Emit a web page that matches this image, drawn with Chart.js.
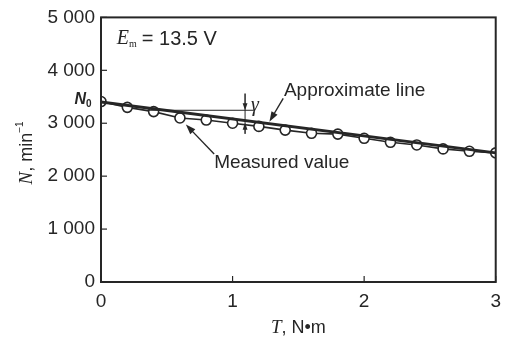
<!DOCTYPE html>
<html>
<head>
<meta charset="utf-8">
<script src="https://cdn.jsdelivr.net/npm/chart.js@4"></script>
<style>
  body { margin: 0; background: #fff; }
  #wrap { width: 509px; height: 342px; position: relative; }
</style>
</head>
<body>
<div id="wrap"><canvas id="chart"></canvas></div>
<script>
// measured speed vs torque at Em = 13.5 V
const torque = [0, 0.2, 0.4, 0.6, 0.8, 1.0, 1.2, 1.4, 1.6, 1.8, 2.0, 2.2, 2.4, 2.6, 2.8, 3.0];
const speed = [3410, 3300, 3220, 3100, 3060, 3000, 2940, 2870, 2810, 2795, 2715, 2640, 2590, 2515, 2470, 2440];
// approximate (fitted) straight line
const approxT = [0, 3];
const approxN = [3400, 2440];
const n0 = 3400;
const yTicks = [0, 1000, 2000, 3000, 4000, 5000];
const xTicks = [0, 1, 2, 3];

const ink = "#262626";
const sans = "Liberation Sans, Arial, sans-serif";
const serif = "Liberation Serif, Times New Roman, serif";

function fmt(v) {
  return v >= 1000 ? Math.floor(v / 1000) + " " + String(v % 1000).padStart(3, "0") : String(v);
}

function arrow(ctx, x1, y1, x2, y2, head) {
  const a = Math.atan2(y2 - y1, x2 - x1);
  ctx.beginPath();
  ctx.moveTo(x1, y1);
  ctx.lineTo(x2 - Math.cos(a) * head * 0.6, y2 - Math.sin(a) * head * 0.6);
  ctx.stroke();
  ctx.beginPath();
  ctx.moveTo(x2, y2);
  ctx.lineTo(x2 - head * Math.cos(a) + head * 0.35 * Math.sin(a), y2 - head * Math.sin(a) - head * 0.35 * Math.cos(a));
  ctx.lineTo(x2 - head * Math.cos(a) - head * 0.35 * Math.sin(a), y2 - head * Math.sin(a) + head * 0.35 * Math.cos(a));
  ctx.closePath();
  ctx.fill();
}

const overlay = {
  id: "overlay",
  afterDraw(chart) {
    const ctx = chart.ctx;
    const xs = chart.scales.x, ys = chart.scales.y;
    const a = chart.chartArea;
    const X = v => xs.getPixelForValue(v), Y = v => ys.getPixelForValue(v);
    ctx.save();
    ctx.strokeStyle = ink;
    ctx.fillStyle = ink;

    // frame
    ctx.lineWidth = 2;
    ctx.strokeRect(a.left, a.top, a.right - a.left, a.bottom - a.top);

    // inward ticks
    ctx.lineWidth = 1.2;
    yTicks.forEach(v => {
      ctx.beginPath(); ctx.moveTo(a.left, Y(v)); ctx.lineTo(a.left + 6, Y(v)); ctx.stroke();
    });
    xTicks.forEach(v => {
      ctx.beginPath(); ctx.moveTo(X(v), a.bottom); ctx.lineTo(X(v), a.bottom - 6); ctx.stroke();
    });

    // N0 label
    ctx.font = "italic bold 16px " + sans;
    ctx.textAlign = "right";
    ctx.textBaseline = "middle";
    ctx.fillText("N", a.left - 15, Y(n0) - 2);
    ctx.font = "bold 10px " + sans;
    ctx.textAlign = "left";
    ctx.fillText("0", a.left - 15, Y(n0) + 2);

    // Em label
    ctx.font = "italic 20px " + serif;
    ctx.textBaseline = "middle";
    let tx = X(0.12), ty = Y(4590);
    ctx.fillText("E", tx, ty);
    tx += ctx.measureText("E").width;
    ctx.font = "10px " + serif;
    ctx.fillText("m", tx, ty + 5);
    tx += ctx.measureText("m").width + 5;
    ctx.font = "20px " + sans;
    ctx.fillText("= 13.5 V", tx, ty);

    // callouts
    ctx.font = "19px " + sans;
    ctx.fillText("Approximate line", X(1.39), Y(3610));
    ctx.fillText("Measured value", X(0.86), Y(2250));
    ctx.lineWidth = 1.4;
    arrow(ctx, X(1.385), Y(3470), X(1.28), Y(3030), 10);
    arrow(ctx, X(0.86), Y(2420), X(0.645), Y(2975), 10);

    // gamma marker
    ctx.lineWidth = 1;
    ctx.beginPath(); ctx.moveTo(X(0.35), Y(3245)); ctx.lineTo(X(1.16), Y(3245)); ctx.stroke();
    ctx.beginPath(); ctx.moveTo(X(1.095), Y(3560)); ctx.lineTo(X(1.095), Y(2800)); ctx.stroke();
    arrow(ctx, X(1.095), Y(3560), X(1.095), Y(3245), 7);
    arrow(ctx, X(1.095), Y(2800), X(1.095), Y(3010), 7);
    ctx.font = "italic 20px " + serif;
    ctx.fillText("\u03B3", X(1.14), Y(3330));

    // axis titles
    ctx.textAlign = "left";
    ctx.font = "italic 19px " + serif;
    let w1 = ctx.measureText("T").width;
    ctx.font = "18px " + sans;
    let w2 = ctx.measureText(", N\u2022m").width;
    let cx = (a.left + a.right) / 2 - (w1 + w2) / 2;
    ctx.font = "italic 19px " + serif;
    ctx.fillText("T", cx, 328);
    ctx.font = "18px " + sans;
    ctx.fillText(", N\u2022m", cx + w1, 328);

    ctx.translate(27, (a.top + a.bottom) / 2 + 6);
    ctx.rotate(-Math.PI / 2);
    ctx.font = "italic 19px " + serif;
    w1 = ctx.measureText("N").width;
    ctx.font = "18px " + sans;
    w2 = ctx.measureText(", min").width;
    cx = -(w1 + w2 + 6) / 2;
    ctx.font = "italic 19px " + serif;
    ctx.fillText("N", cx, 0);
    ctx.font = "18px " + sans;
    ctx.fillText(", min", cx + w1, 0);
    ctx.font = "10px " + sans;
    ctx.fillText("\u22121", cx + w1 + w2, -7);
    ctx.restore();
  }
};

new Chart(document.getElementById("chart"), {
  type: "scatter",
  data: {
    datasets: [
      {
        label: "Approximate line",
        data: approxT.map((t, i) => ({ x: t, y: approxN[i] })),
        showLine: true,
        borderColor: ink,
        borderWidth: 3,
        pointRadius: 0
      },
      {
        label: "Measured value",
        data: torque.map((t, i) => ({ x: t, y: speed[i] })),
        showLine: true,
        borderColor: ink,
        borderWidth: 1.6,
        pointRadius: 5,
        pointBorderWidth: 1.6,
        pointBackgroundColor: "#fff",
        pointBorderColor: ink
      }
    ]
  },
  options: {
    responsive: true,
    maintainAspectRatio: false,
    animation: false,
    layout: { padding: { left: 0, top: 16, right: 9, bottom: 0 } },
    plugins: { legend: { display: false }, tooltip: { enabled: false } },
    scales: {
      x: {
        type: "linear",
        min: 0, max: 3,
        afterBuildTicks: s => { s.ticks = xTicks.map(v => ({ value: v })); },
        afterFit: s => { s.height = 60; },
        grid: { display: false, drawTicks: false },
        border: { display: false },
        ticks: { color: ink, font: { family: sans, size: 19 }, padding: 8, callback: v => String(v) }
      },
      y: {
        type: "linear",
        min: 0, max: 5000,
        afterBuildTicks: s => { s.ticks = yTicks.map(v => ({ value: v })); },
        afterFit: s => { s.width = 101; },
        grid: { display: false, drawTicks: false },
        border: { display: false },
        ticks: { color: ink, font: { family: sans, size: 19 }, padding: 6, callback: v => fmt(v) }
      }
    }
  },
  plugins: [overlay]
});
</script>
</body>
</html>
